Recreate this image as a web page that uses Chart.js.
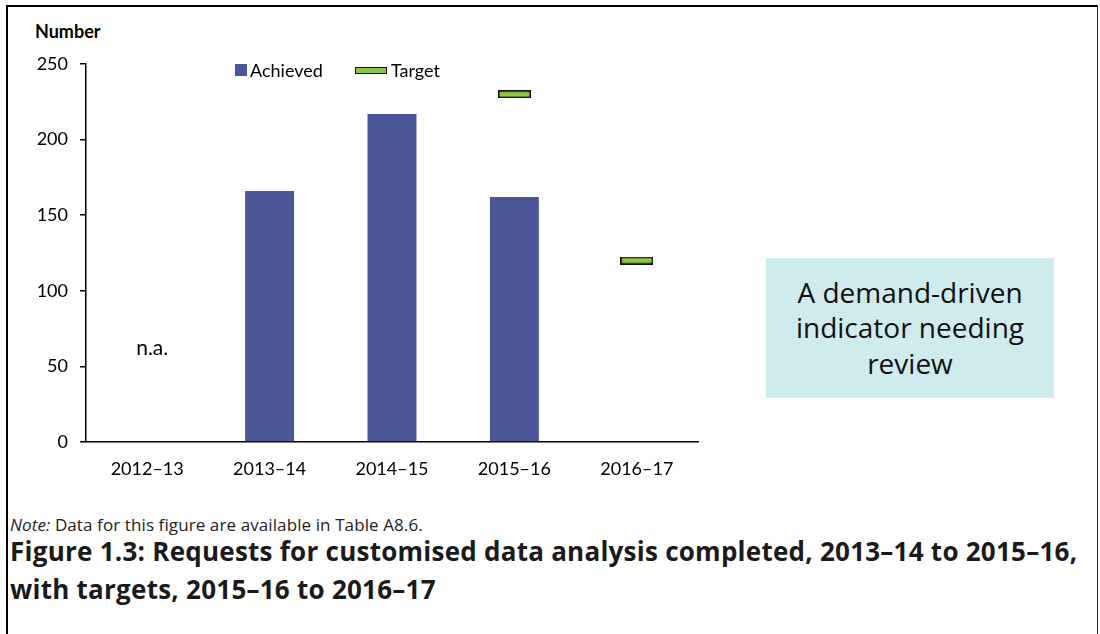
<!DOCTYPE html>
<html>
<head>
<meta charset="utf-8">
<script src="https://cdn.jsdelivr.net/npm/chart.js@4.4.1/dist/chart.umd.min.js"></script>
<style>
    body { margin: 0; background: #fff; }
    #page { position: relative; width: 1100px; height: 634px; overflow: hidden; background: #fff; }
    #frame { position: absolute; left: 6px; top: 5px; width: 1092px; height: 700px; box-sizing: border-box;
        border-left: 2px solid #000; border-top: 2px solid #000; border-right: 1px solid #222; }
    #unit { position: absolute; left: 35px; top: 20px; font: bold 18px Lato, sans-serif; color: #000; }
    #chartBox { position: absolute; left: 20px; top: 40px; width: 720px; height: 442px; }
    .lg { position: absolute; font: 18px Lato, sans-serif; color: #000; line-height: 20px; }
    #infoBox { position: absolute; left: 766px; top: 258px; width: 288px; height: 140px; background: #D0EBEE;
        display: flex; align-items: center; justify-content: center; text-align: center;
        font: 28px "Open Sans", sans-serif; line-height: 35.5px; color: #111; }
    #note { position: absolute; left: 10px; top: 513px; font: 17px "Open Sans", sans-serif; color: #222; letter-spacing: 0.1px; }
    #caption { position: absolute; left: 10px; top: 532px; width: 1090px; font: bold 26px "Open Sans", sans-serif;
        line-height: 38px; color: #1a1a1a; letter-spacing: 0.25px; }
</style>
</head>
<body>
<div id="page">
    <div id="frame"></div>
    <div id="unit">Number</div>
    <div id="chartBox"><canvas id="chart"></canvas></div>

    <div class="lg" style="left:235px; top:64px; width:12px; height:12px; background:#4A5697;"></div>
    <div class="lg" style="left:250px; top:60px;">Achieved</div>
    <div class="lg" style="left:355px; top:67px; width:32px; height:7px; box-sizing:border-box; background:#8DC63F; border:1.5px solid #111;"></div>
    <div class="lg" style="left:391px; top:60px;">Target</div>

    <div id="infoBox">A demand-driven<br>indicator needing<br>review</div>
    <div id="note"><i>Note:</i> Data for this figure are available in Table A8.6.</div>
    <div id="caption">Figure 1.3: Requests for customised data analysis completed, 2013–14 to 2015–16,<br>with targets, 2015–16 to 2016–17</div>
</div>

<script>
const years = ["2012–13", "2013–14", "2014–15", "2015–16", "2016–17"];
const achieved = [null, 166, 217, 162, null];
const target = [null, null, null, 230, 120];
const notes = ["n.a.", "", "", "", ""];
const yTicks = [0, 50, 100, 150, 200, 250];

const BAR_COLOR = "#4A5697";
const TARGET_COLOR = "#8DC63F";

// target marker: flat green bar with dark edge
function targetMarker() {
    const c = document.createElement("canvas");
    c.width = 33;
    c.height = 8;
    const g = c.getContext("2d");
    g.fillStyle = "#111";
    g.fillRect(0, 0, 33, 8);
    g.fillStyle = TARGET_COLOR;
    g.fillRect(1.5, 1.5, 30, 5);
    return c;
}

const naPlugin = {
    id: "naLabels",
    afterDatasetsDraw(chart) {
        const ctx = chart.ctx;
        const xs = chart.scales.x;
        const ys = chart.scales.y;
        ctx.save();
        ctx.font = "21px Lato, sans-serif";
        ctx.fillStyle = "#000";
        ctx.textAlign = "center";
        ctx.textBaseline = "middle";
        notes.forEach((t, i) => {
            if (t) ctx.fillText(t, xs.getPixelForValue(i) + 5, ys.getPixelForValue(62));
        });
        ctx.restore();
    }
};

new Chart(document.getElementById("chart"), {
    type: "bar",
    data: {
        labels: years,
        datasets: [
            {
                label: "Achieved",
                data: achieved,
                backgroundColor: BAR_COLOR,
                barPercentage: 0.4,
                categoryPercentage: 1,
                order: 2
            },
            {
                type: "line",
                label: "Target",
                data: target,
                showLine: false,
                pointStyle: targetMarker(),
                pointRadius: 10,
                order: 1
            }
        ]
    },
    options: {
        responsive: true,
        maintainAspectRatio: false,
        animation: false,
        events: [],
        layout: { padding: { top: 24, right: 42, left: 0, bottom: 0 } },
        plugins: {
            legend: { display: false },
            tooltip: { enabled: false }
        },
        scales: {
            x: {
                grid: { display: false },
                border: { display: true, color: "#000", width: 1.5 },
                ticks: { color: "#000", font: { family: "Lato", size: 18 }, padding: 8 },
                afterFit: (s) => { s.height = 40; }
            },
            y: {
                min: 0,
                max: 250,
                afterBuildTicks: (s) => { s.ticks = yTicks.map(v => ({ value: v })); },
                grid: { display: true, drawOnChartArea: false, drawTicks: true, tickLength: 6, color: "#000", lineWidth: 1.5 },
                border: { display: true, color: "#000", width: 1.5 },
                ticks: { color: "#000", font: { family: "Lato", size: 18 }, padding: 12 },
                afterFit: (s) => { s.width = 66; }
            }
        }
    },
    plugins: [naPlugin]
});
</script>
</body>
</html>
